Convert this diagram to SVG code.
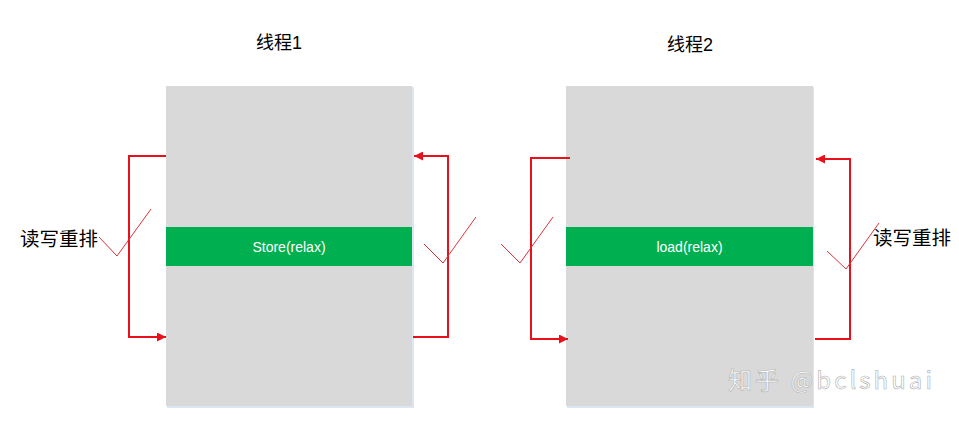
<svg xmlns="http://www.w3.org/2000/svg" width="959" height="421" viewBox="0 0 959 421">
<style>
.box{fill:#D9D9D9}
.shadow{fill:#DCE6F2}
.band{fill:#00B050}
.bandtxt{font-family:"Liberation Sans","Noto Sans",sans-serif;font-size:14px;fill:#FFFFFF;text-anchor:middle}
.title{font-family:"Liberation Sans","Noto Sans CJK SC",sans-serif;font-size:18px;fill:#000000;text-anchor:middle}
.lbl{font-family:"Liberation Sans","Noto Sans CJK SC",sans-serif;font-size:19.5px;fill:#000000}
.conn{fill:none;stroke:#E8101A;stroke-width:2}
.tick{fill:none;stroke:#D9343C;stroke-width:1}
.wm{font-family:"Noto Sans CJK SC","Liberation Sans",sans-serif;font-size:24px;fill:#FFFFFF;stroke:#B0B0B0;stroke-width:0.6}
</style>
<defs>
<marker id="arr" viewBox="0 0 10 10" refX="10" refY="5" markerWidth="11" markerHeight="9" markerUnits="userSpaceOnUse" orient="auto">
<path d="M0,0 L10,5 L0,10 Z" fill="#E8101A"/>
</marker>
</defs>
<rect width="959" height="421" fill="#FFFFFF"/>
<g id="thread1">
<text class="title" x="279" y="49">线程1</text>
<rect class="shadow" x="167" y="87" width="247" height="321"/>
<rect class="box" x="166" y="86" width="246" height="320"/>
<rect class="band" x="166" y="227" width="246" height="39"/>
<text class="bandtxt" x="289" y="252">Store(relax)</text>
</g>
<g id="thread2">
<text class="title" x="690" y="51">线程2</text>
<rect class="shadow" x="567" y="87" width="247" height="321"/>
<rect class="box" x="566" y="86" width="247" height="320"/>
<rect class="band" x="566" y="227" width="247" height="39"/>
<text class="bandtxt" x="689.5" y="252">load(relax)</text>
</g>
<g id="label-left">
<text class="lbl" x="20" y="246">读写重排</text>
</g>
<g id="label-right">
<text class="lbl" x="873" y="245">读写重排</text>
</g>
<g id="connectors">
<polyline class="conn" points="166,156 129,156 129,337 166,337" marker-end="url(#arr)"/>
<polyline class="conn" points="413,337 448,337 448,156 414,156" marker-end="url(#arr)"/>
<polyline class="conn" points="570,158 531,158 531,339 568,339" marker-end="url(#arr)"/>
<polyline class="conn" points="815,339 850,339 850,159 816,159" marker-end="url(#arr)"/>
<polyline class="tick" points="99,237 117,256 151,209"/>
<polyline class="tick" points="424,244 443,263 476,217"/>
<polyline class="tick" points="501,244 520,263 553,217"/>
<polyline class="tick" points="827,251 846,269 879,223"/>
</g>
<text class="wm" x="728" y="389" textLength="204" lengthAdjust="spacing">知乎 @bclshuai</text>
</svg>
